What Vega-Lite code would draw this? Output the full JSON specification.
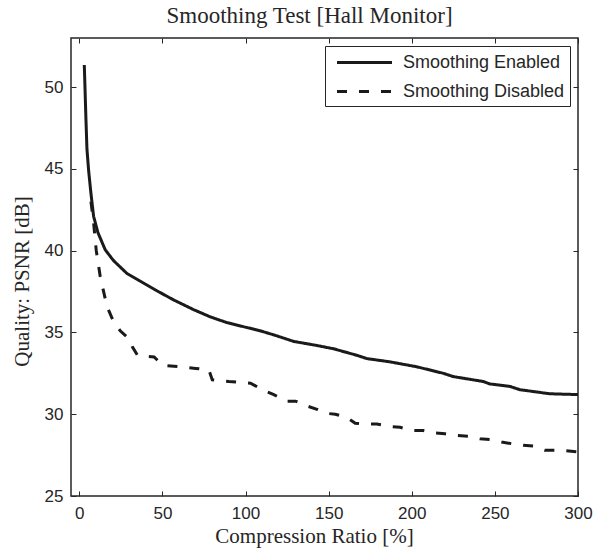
{
  "$schema": "https://vega.github.io/schema/vega-lite/v6.json",
  "width": 507,
  "height": 458,
  "autosize": "none",
  "padding": {"left": 71, "top": 38, "right": 25, "bottom": 59},
  "title": {"text": "Smoothing Test [Hall Monitor]", "font": "Liberation Serif", "fontSize": 23, "fontWeight": "normal", "color": "#262626", "offset": 10, "dx": -15},
  "config": {
    "view": {"stroke": "#262626", "strokeWidth": 1.5},
    "axis": {"grid": false, "domain": false, "labelFont": "Liberation Sans", "labelFontSize": 17, "labelColor": "#262626", "labelFlush": false, "tickColor": "#262626", "tickWidth": 1, "tickSize": -5, "titleFont": "Liberation Serif", "titleFontSize": 21, "titleFontWeight": "normal", "titleColor": "#262626"},
    "legend": {"orient": "top-right", "offset": 8, "strokeColor": "#262626", "strokeWidth": 1, "fillColor": "white", "padding": 5, "labelFont": "Liberation Sans", "labelFontSize": 18, "labelLimit": 400, "labelColor": "#262626", "symbolType": "M-2.75,0H2.75", "symbolSize": 400, "symbolStrokeWidth": 3, "symbolStrokeColor": "#1a1a1a", "symbolOffset": 23, "rowPadding": 8, "labelOffset": 27}
  },
  "data": {"values": [
    {"series": "Smoothing Enabled", "x": 3, "y": 51.35},
    {"series": "Smoothing Enabled", "x": 4, "y": 48.0},
    {"series": "Smoothing Enabled", "x": 4.6, "y": 46.2},
    {"series": "Smoothing Enabled", "x": 5.6, "y": 44.9},
    {"series": "Smoothing Enabled", "x": 7, "y": 43.5},
    {"series": "Smoothing Enabled", "x": 8.6, "y": 42.1},
    {"series": "Smoothing Enabled", "x": 11.2, "y": 41.1},
    {"series": "Smoothing Enabled", "x": 15.6, "y": 40.05},
    {"series": "Smoothing Enabled", "x": 20.5, "y": 39.4},
    {"series": "Smoothing Enabled", "x": 28.7, "y": 38.6},
    {"series": "Smoothing Enabled", "x": 35.5, "y": 38.2},
    {"series": "Smoothing Enabled", "x": 45.7, "y": 37.6},
    {"series": "Smoothing Enabled", "x": 56.5, "y": 37.0},
    {"series": "Smoothing Enabled", "x": 68.6, "y": 36.4},
    {"series": "Smoothing Enabled", "x": 78.8, "y": 35.95},
    {"series": "Smoothing Enabled", "x": 88.8, "y": 35.6},
    {"series": "Smoothing Enabled", "x": 100.8, "y": 35.3},
    {"series": "Smoothing Enabled", "x": 108.8, "y": 35.1},
    {"series": "Smoothing Enabled", "x": 117, "y": 34.85},
    {"series": "Smoothing Enabled", "x": 123, "y": 34.65},
    {"series": "Smoothing Enabled", "x": 129, "y": 34.45},
    {"series": "Smoothing Enabled", "x": 143, "y": 34.2},
    {"series": "Smoothing Enabled", "x": 153, "y": 34.0},
    {"series": "Smoothing Enabled", "x": 167, "y": 33.6},
    {"series": "Smoothing Enabled", "x": 173, "y": 33.4},
    {"series": "Smoothing Enabled", "x": 187, "y": 33.2},
    {"series": "Smoothing Enabled", "x": 203, "y": 32.9},
    {"series": "Smoothing Enabled", "x": 219, "y": 32.5},
    {"series": "Smoothing Enabled", "x": 225, "y": 32.3},
    {"series": "Smoothing Enabled", "x": 243, "y": 32.0},
    {"series": "Smoothing Enabled", "x": 247, "y": 31.85},
    {"series": "Smoothing Enabled", "x": 259, "y": 31.7},
    {"series": "Smoothing Enabled", "x": 265, "y": 31.5},
    {"series": "Smoothing Enabled", "x": 283, "y": 31.25},
    {"series": "Smoothing Enabled", "x": 300, "y": 31.2},
    {"series": "Smoothing Disabled", "x": 7, "y": 43.0},
    {"series": "Smoothing Disabled", "x": 8.6, "y": 41.7},
    {"series": "Smoothing Disabled", "x": 10.2, "y": 40.0},
    {"series": "Smoothing Disabled", "x": 12.6, "y": 38.4},
    {"series": "Smoothing Disabled", "x": 16.6, "y": 36.6},
    {"series": "Smoothing Disabled", "x": 20, "y": 35.8},
    {"series": "Smoothing Disabled", "x": 24.6, "y": 35.1},
    {"series": "Smoothing Disabled", "x": 30, "y": 34.6},
    {"series": "Smoothing Disabled", "x": 32, "y": 34.1},
    {"series": "Smoothing Disabled", "x": 35, "y": 33.6},
    {"series": "Smoothing Disabled", "x": 45, "y": 33.5},
    {"series": "Smoothing Disabled", "x": 50, "y": 33.0},
    {"series": "Smoothing Disabled", "x": 60, "y": 32.9},
    {"series": "Smoothing Disabled", "x": 70, "y": 32.8},
    {"series": "Smoothing Disabled", "x": 78, "y": 32.7},
    {"series": "Smoothing Disabled", "x": 80, "y": 32.1},
    {"series": "Smoothing Disabled", "x": 90, "y": 32.0},
    {"series": "Smoothing Disabled", "x": 103, "y": 31.9},
    {"series": "Smoothing Disabled", "x": 110, "y": 31.5},
    {"series": "Smoothing Disabled", "x": 117, "y": 31.2},
    {"series": "Smoothing Disabled", "x": 124, "y": 30.8},
    {"series": "Smoothing Disabled", "x": 130, "y": 30.8},
    {"series": "Smoothing Disabled", "x": 137, "y": 30.5},
    {"series": "Smoothing Disabled", "x": 143, "y": 30.3},
    {"series": "Smoothing Disabled", "x": 149, "y": 30.05},
    {"series": "Smoothing Disabled", "x": 154, "y": 30.0},
    {"series": "Smoothing Disabled", "x": 161, "y": 29.8},
    {"series": "Smoothing Disabled", "x": 166, "y": 29.45},
    {"series": "Smoothing Disabled", "x": 173, "y": 29.4},
    {"series": "Smoothing Disabled", "x": 179, "y": 29.4},
    {"series": "Smoothing Disabled", "x": 187, "y": 29.25},
    {"series": "Smoothing Disabled", "x": 193, "y": 29.2},
    {"series": "Smoothing Disabled", "x": 201, "y": 29.0},
    {"series": "Smoothing Disabled", "x": 207, "y": 29.0},
    {"series": "Smoothing Disabled", "x": 214, "y": 28.85},
    {"series": "Smoothing Disabled", "x": 220, "y": 28.8},
    {"series": "Smoothing Disabled", "x": 227, "y": 28.7},
    {"series": "Smoothing Disabled", "x": 234, "y": 28.65},
    {"series": "Smoothing Disabled", "x": 241, "y": 28.5},
    {"series": "Smoothing Disabled", "x": 247, "y": 28.45},
    {"series": "Smoothing Disabled", "x": 254, "y": 28.3},
    {"series": "Smoothing Disabled", "x": 260, "y": 28.2},
    {"series": "Smoothing Disabled", "x": 267, "y": 28.1},
    {"series": "Smoothing Disabled", "x": 273, "y": 28.05},
    {"series": "Smoothing Disabled", "x": 280, "y": 27.8},
    {"series": "Smoothing Disabled", "x": 290, "y": 27.8},
    {"series": "Smoothing Disabled", "x": 300, "y": 27.7}
  ]},
  "layer": [
    {
      "mark": {"type": "line", "strokeWidth": 3, "color": "#1a1a1a", "clip": true},
      "encoding": {
        "x": {"field": "x", "type": "quantitative", "scale": {"domain": [-5, 300], "nice": false, "zero": false}, "axis": {"orient": "bottom", "values": [0, 50, 100, 150, 200, 250, 300], "title": "Compression Ratio [%]", "labelPadding": 14, "titlePadding": 4, "titleX": 243}},
        "y": {"field": "y", "type": "quantitative", "scale": {"domain": [25, 53], "nice": false, "zero": false}, "axis": {"orient": "left", "values": [25, 30, 35, 40, 45, 50], "title": "Quality: PSNR [dB]", "labelPadding": 13, "titlePadding": 12, "titleY": 243}},
        "strokeDash": {"field": "series", "type": "nominal", "scale": {"domain": ["Smoothing Enabled", "Smoothing Disabled"], "range": [[1, 0], [10, 12]]}, "legend": {"title": null}}
      }
    },
    {
      "mark": {"type": "line", "strokeOpacity": 0},
      "encoding": {
        "x": {"field": "x", "type": "quantitative", "axis": {"orient": "top", "values": [0, 50, 100, 150, 200, 250, 300], "labels": false, "title": null}},
        "y": {"field": "y", "type": "quantitative", "axis": {"orient": "right", "values": [25, 30, 35, 40, 45, 50], "labels": false, "title": null}},
        "detail": {"field": "series"}
      }
    }
  ],
  "resolve": {"axis": {"x": "independent", "y": "independent"}}
}
